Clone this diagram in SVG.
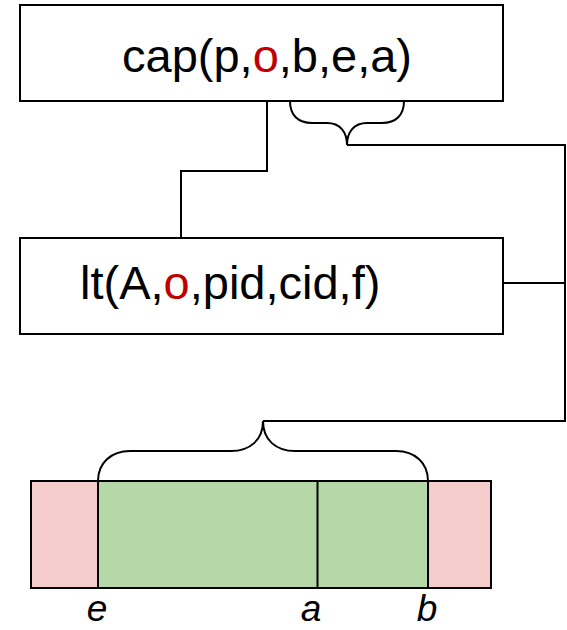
<svg xmlns="http://www.w3.org/2000/svg" width="567" height="630" viewBox="0 0 567 630">
<style>
.box{fill:#ffffff;stroke:#000000;stroke-width:2}
.lbl{font-family:"Liberation Sans",Arial,sans-serif;font-size:47px;fill:#000000}
.red{fill:#c00000}
.conn{fill:none;stroke:#000000;stroke-width:2}
.seg{stroke:#000000;stroke-width:2}
.axis{font-family:"Liberation Sans",Arial,sans-serif;font-size:37px;font-style:italic;fill:#000000;text-anchor:middle}
</style>
<rect width="567" height="630" fill="#ffffff"/>
<g id="connectors">
<path class="conn" d="M267,101 V171 H181 V238"/>
<path class="conn" d="M290,101 C290,115 298,123 312,123 L327,123 C340,123 347,132 347,145 C347,132 354,123 367,123 L382,123 C396,123 404,115 404,101"/>
<path class="conn" d="M347,145 H565 V421 H263"/>
<path class="conn" d="M503,283 H565"/>
<path class="conn" d="M98,481 C98,463 111,451 130,451 L231,451 C250,451 263,440 263,421 C263,440 276,451 295,451 L396,451 C415,451 428,463 428,481"/>
</g>
<g id="cap">
<rect class="box" x="20" y="5" width="483" height="96"/>
<text class="lbl" x="122" y="72">cap(p,<tspan class="red">o</tspan>,b,e,a)</text>
</g>
<g id="lt">
<rect class="box" x="20" y="238" width="483" height="96"/>
<text class="lbl" x="80" y="299">lt(A,<tspan class="red">o</tspan>,pid,cid,f)</text>
</g>
<g id="range">
<rect x="31" y="481" width="460" height="107" fill="#f4cccc" stroke="#000000" stroke-width="2"/>
<rect x="98" y="481" width="330" height="107" fill="#b6d7a8" stroke="#000000" stroke-width="2"/>
<line class="seg" x1="317.5" y1="481" x2="317.5" y2="588"/>
<text class="axis" x="97" y="621">e</text>
<text class="axis" x="311" y="621">a</text>
<text class="axis" x="427" y="621">b</text>
</g>
</svg>
